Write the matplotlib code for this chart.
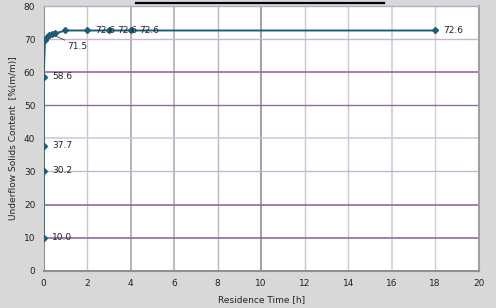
import matplotlib
matplotlib.use("Agg")
import matplotlib.pyplot as plt
from matplotlib.lines import Line2D

time_h = [0.0, 0.0, 0.0, 0.0, 0.06, 0.15, 0.24, 0.37, 0.52, 1.0, 2.0, 3.0, 4.0, 18.0]
solids = [10.0, 30.2, 37.7, 58.6, 69.6, 70.6, 71.2, 71.5, 71.7, 72.6, 72.6, 72.6, 72.6, 72.6]
labelled = {0: "10.0", 1: "30.2", 2: "37.7", 3: "58.6", 10: "72.6", 11: "72.6", 12: "72.6", 13: "72.6"}
leader_idx = 7
leader_text = "71.5"

xticks = list(range(0, 21, 2))
yticks = list(range(0, 81, 10))

fig = plt.figure(figsize=(4.96, 3.08), dpi=100)
fig.patch.set_facecolor("#d8d8d8")
ax = fig.add_axes([0.088, 0.121, 0.877, 0.8595])
ax.set_facecolor("white")
ax.set_xlim(0, 20)
ax.set_ylim(0, 80)
ax.set_xticks(xticks)
ax.set_yticks(yticks)

# gridlines
vstyles = {2: ("#c8c8c8", 1.0), 4: ("#a8a8a8", 1.2), 6: ("#b0b0b0", 1.2), 8: ("#b8b8b8", 1.0),
           10: ("#a0a0a0", 1.4), 12: ("#c8c8c8", 1.0), 14: ("#c8c8c8", 1.0), 16: ("#d0d0d0", 1.2),
           18: ("#d0d0d0", 1.0)}
for x, (c, w) in vstyles.items():
    ax.axvline(x, color=c, lw=w, zorder=1)
hstyles = {10: ("#8e6ba0", 1.2), 20: ("#8e6ba0", 1.2), 30: ("#c9b3d4", 1.0), 40: ("#d6c6de", 1.2),
           50: ("#8e6ba0", 1.0), 60: ("#8e6ba0", 1.2), 70: ("#c9b3d4", 1.0)}
for y, (c, w) in hstyles.items():
    ax.axhline(y, color=c, lw=w, zorder=1)

line_color = "#1d5c78"
ax.plot(time_h, solids, color=line_color, lw=1.4, marker="D", ms=3.0, zorder=3)

for i, t in labelled.items():
    ax.annotate(t, (time_h[i], solids[i]), xytext=(6, 0), textcoords="offset points",
                va="center", ha="left", fontsize=6.5, color="#222222", zorder=4)
ax.annotate(leader_text, (time_h[leader_idx], solids[leader_idx]), xytext=(1.1, 67.9),
            textcoords="data", va="center", ha="left", fontsize=6.5, color="#222222",
            arrowprops=dict(arrowstyle="-", color="#444444", lw=0.6,
                            shrinkA=0, shrinkB=1), zorder=4)

for s in ["top", "right"]:
    ax.spines[s].set_color("#b8a8c8")
    ax.spines[s].set_linewidth(1.0)
ax.spines["left"].set_color("#909090")
ax.spines["bottom"].set_color("#909090")
ax.spines["right"].set_color("#a0a0a0")
ax.spines["right"].set_linewidth(1.5)
ax.spines["bottom"].set_linewidth(1.5)
ax.tick_params(length=0, labelsize=6.5, colors="#222222", pad=6)

ax.set_xlabel("Residence Time [h]", fontsize=6.5, color="#222222", labelpad=5)
ax.set_ylabel("Underflow Solids Content  [%(m/m)]", fontsize=6.5, color="#222222", labelpad=4)

fig.add_artist(Line2D([136 / 496, 384 / 496], [1 - 3 / 308, 1 - 3 / 308], color="black", lw=1.6,
                      transform=fig.transFigure))

fig.savefig("out.png", dpi=100, facecolor=fig.get_facecolor())
